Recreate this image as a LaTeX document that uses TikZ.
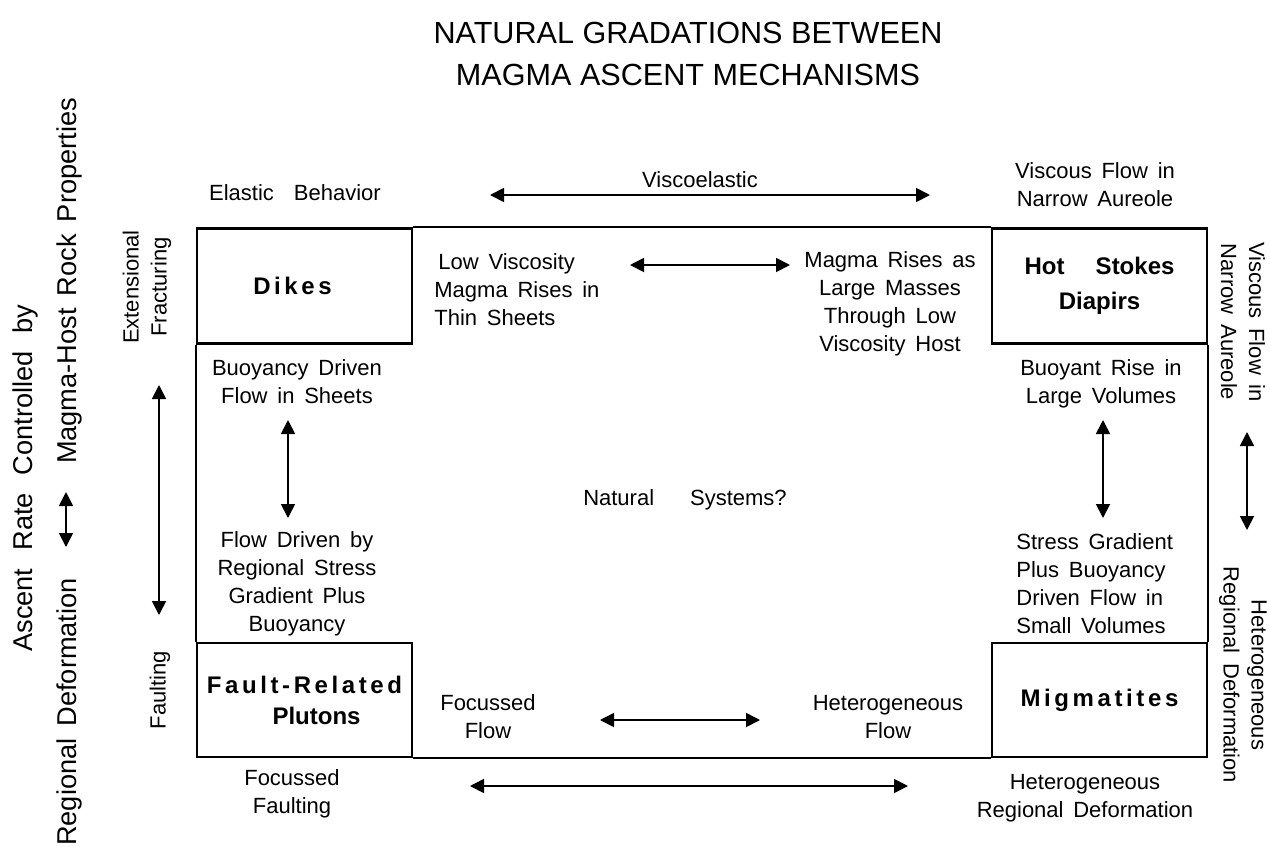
\documentclass[tikz,border=0pt]{standalone}
\usepackage{fontspec}
\setmainfont{Liberation Sans}[WordSpace=1.6]
\newfontfamily\titlefont{Liberation Sans}
\newfontfamily\boldsp{Liberation Sans}[LetterSpace=15,WordSpace=1.6]
\usetikzlibrary{arrows.meta}
\tikzset{
  txt/.style={font=\fontsize{11}{14}\selectfont, align=center, inner sep=0pt},
  bigtxt/.style={font=\fontsize{13.6}{16}\selectfont, align=center, inner sep=0pt},
  ttl/.style={font=\titlefont\fontsize{15.3}{21}\selectfont, align=center, inner sep=0pt},
  mbox/.style={draw, line width=1.3pt, fill=white, minimum width=107.5pt, align=center, inner sep=0pt},
  dbl/.style={{Triangle[length=7pt,width=7pt]}-{Triangle[length=7pt,width=7pt]}, line width=0.9pt},
  frame/.style={line width=1.1pt}
}
\begin{document}
\begin{tikzpicture}[x=0.5pt,y=-0.5pt]
\useasboundingbox (0,0) rectangle (1270,848);
% title
\node[ttl] (title) at (688,54) {NATURAL GRADATIONS BETWEEN\\MAGMA ASCENT MECHANISMS};
% boxes
\node[mbox, minimum height=57.5pt, font=\boldsp\bfseries\fontsize{12}{15}\selectfont] (dikes) at (304.5,286) {Dikes\hspace*{12pt}};
\node[mbox, minimum height=57.5pt, font=\bfseries\fontsize{12}{17.5}\selectfont] (hot) at (1099.5,286) {Hot\hskip1.3em Stokes\\Diapirs};
\node[mbox, minimum height=57pt, font=\bfseries\fontsize{12}{15.5}\selectfont] (fault) at (304.5,700) {{\boldsp Fault-Related}\\\hspace*{12pt}Plutons};
\node[mbox, minimum height=57pt, font=\boldsp\bfseries\fontsize{12}{15}\selectfont] (mig) at (1099.5,700) {Migmatites};
% frame
\draw[frame] (dikes.north east) -- (hot.north west);
\draw[frame] (dikes.south west) -- (fault.north west);
\draw[frame] (hot.south east) -- (mig.north east);
\draw[frame] (fault.south east) -- (mig.south west);
% top texts
\node[txt] (elastic) at (295,193) {Elastic\hspace{10pt}Behavior};
\node[txt] (visco) at (700,180) {Viscoelastic};
\coordinate (va) at (490,195);
\coordinate (vb) at (930,195);
\draw[dbl] (va) -- (vb);
\node[txt] (viscous) at (1095,185) {Viscous Flow in\\Narrow Aureole};
% inner texts
\node[txt, align=left, anchor=west] (lowv) at (434,290) {\hspace*{2pt}Low Viscosity\\Magma Rises in\\Thin Sheets};
\node[txt] (rises) at (890,304) {Magma Rises as\\Large Masses\\Through Low\\Viscosity Host};
\coordinate (la) at (630,265);
\coordinate (lb) at (790,265);
\draw[dbl] (la) -- (lb);
\node[txt] (buoy) at (297,382) {Buoyancy Driven\\Flow in Sheets};
\node[txt] (flowdr) at (297,584) {Flow Driven by\\Regional Stress\\Gradient Plus\\Buoyancy};
\coordinate (ba) at (288,420);
\coordinate (bb) at (288,518);
\draw[dbl] (ba) -- (bb);
\node[txt] (natural) at (685,500) {Natural\hspace{18pt}Systems?};
\node[txt] (buoyr) at (1101,384) {Buoyant Rise in\\Large Volumes};
\node[txt, align=left, anchor=west] (stress) at (1016,583.5) {Stress Gradient\\Plus Buoyancy\\Driven Flow in\\Small Volumes};
\coordinate (ra) at (1103,420);
\coordinate (rb) at (1103,518);
\draw[dbl] (ra) -- (rb);
\node[txt] (focflow) at (488,717) {Focussed\\Flow};
\node[txt] (hetflow) at (888,717) {Heterogeneous\\Flow};
\coordinate (fa) at (600,720);
\coordinate (fb) at (760,720);
\draw[dbl] (fa) -- (fb);
% bottom texts
\node[txt] (focfault) at (292,794) {Focussed\\Faulting};
\node[txt] (hetreg) at (1085,798) {Heterogeneous\\Regional Deformation};
\coordinate (ga) at (470,786);
\coordinate (gb) at (908,786);
\draw[dbl] (ga) -- (gb);
% left side
\node[txt, rotate=90] (ext) at (147,287) {Extensional\\Fracturing};
\node[txt, rotate=90] (faulting) at (160,690) {Faulting};
\coordinate (ea) at (159,385);
\coordinate (eb) at (159,615);
\draw[dbl] (ea) -- (eb);
\node[bigtxt, rotate=90] (colA) at (25,478) {Ascent\hspace{9pt}Rate\hspace{9pt}Controlled\hspace{9pt}by};
\node[bigtxt, rotate=90] (colB1) at (69,281) {Magma-Host Rock Properties};
\node[bigtxt, rotate=90] (colB2) at (69,712) {Regional Deformation};
\coordinate (ca) at (66,492);
\coordinate (cb) at (66,547);
\draw[dbl] (ca) -- (cb);
% right side
\node[txt, rotate=-90] (right1) at (1243,322) {Viscous Flow in\\Narrow Aureole};
\node[txt, rotate=-90] (right2) at (1243,675) {Heterogeneous\\Regional Deformation};
\coordinate (qa) at (1247,432);
\coordinate (qb) at (1247,530);
\draw[dbl] (qa) -- (qb);
\end{tikzpicture}
\end{document}
